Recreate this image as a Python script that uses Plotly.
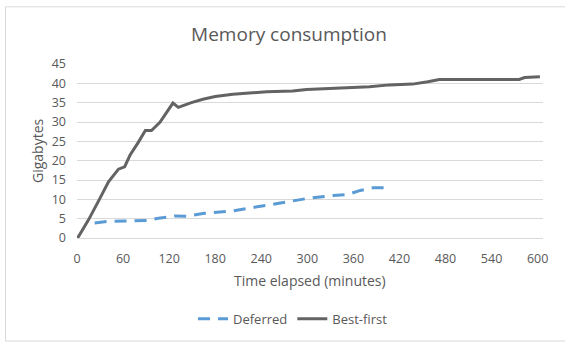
import plotly.graph_objects as go

# Best-first series (minutes, gigabytes)
best_t = [0, 2, 15, 21, 30, 41, 54, 62, 69, 80, 89, 97, 108, 125, 132, 149, 164, 180, 203,
          247, 281, 299, 351, 381, 407, 437, 457, 472, 576, 583, 603]
best_v = [0, 0.4, 4.7, 6.8, 10.3, 14.5, 17.8, 18.4, 21.4, 24.8, 27.8, 27.8, 29.9, 34.9, 33.8,
          35.0, 35.9, 36.6, 37.2, 37.8, 38.0, 38.4, 38.8, 39.1, 39.6, 39.8, 40.4, 41.0,
          41.0, 41.5, 41.7]

# Deferred series
def_t = [23, 41, 62, 91, 106, 127, 143, 166, 199, 230, 265, 299, 334, 352, 369, 386, 401]
def_v = [3.9, 4.3, 4.4, 4.5, 5.1, 5.7, 5.6, 6.4, 6.9, 8.0, 9.05, 10.2, 11.0, 11.2, 12.3, 13.0, 13.0]

x_ticks = [0, 60, 120, 180, 240, 300, 360, 420, 480, 540, 600]
y_ticks = [0, 5, 10, 15, 20, 25, 30, 35, 40, 45]

FONT = "Open Sans"
TXT = "#595959"
GRID = "#d9d9d9"

fig = go.Figure()
fig.add_trace(go.Scatter(x=def_t, y=def_v, mode="lines", name="Deferred",
                         line=dict(color="#5B9BD5", width=3, dash="12px,8px")))
fig.add_trace(go.Scatter(x=best_t, y=best_v, mode="lines", name="Best-first",
                         line=dict(color="#636363", width=3)))

L, R, T, B = 77, 22, 63.5, 106
W, H = 565, 346
pw = W - L - R
ph = H - T - B

def px2x(p):
    return (p - L) / pw

def py2y(p):
    return (H - B - p) / ph

fig.update_layout(
    width=W, height=H,
    margin=dict(l=L, r=R, t=T, b=B),
    paper_bgcolor="white", plot_bgcolor="white",
    font=dict(family=FONT, color=TXT, size=12),
    title=dict(text="Memory consumption", font=dict(size=19, color=TXT, family=FONT),
               xref="container", yref="container", x=289 / W, y=1 - 34 / H,
               xanchor="center", yanchor="middle"),
    showlegend=True,
    legend=dict(orientation="h", x=px2x(293), y=py2y(322), xanchor="center", yanchor="middle",
                font=dict(size=13, color=TXT), bgcolor="rgba(0,0,0,0)"),
    xaxis=dict(range=[0, 607], tickvals=x_ticks, showgrid=False, zeroline=False,
               showline=True, linecolor=GRID, linewidth=1, ticks="",
               ticklabelstandoff=9, tickfont=dict(size=12.5, color=TXT)),
    yaxis=dict(range=[0, 45], tickvals=y_ticks, showgrid=True, gridcolor=GRID, gridwidth=1,
               zeroline=False, showline=False, ticks="", ticklabelstandoff=10,
               tickfont=dict(size=12.5, color=TXT)),
    annotations=[
        dict(text="Gigabytes", xref="paper", yref="paper", x=px2x(37), y=0.5,
             xanchor="center", yanchor="middle", textangle=-90, showarrow=False,
             font=dict(size=14, color=TXT)),
        dict(text="Time elapsed (minutes)", xref="paper", yref="paper", x=0.5, y=py2y(283),
             xanchor="center", yanchor="middle", showarrow=False,
             font=dict(size=14, color=TXT)),
    ],
    shapes=[dict(type="rect", xref="paper", yref="paper", x0=px2x(5.5), x1=px2x(575),
                 y0=py2y(344.5), y1=py2y(5.5), line=dict(color=GRID, width=1),
                 fillcolor="rgba(0,0,0,0)", layer="below")],
)

fig.write_html("out.html")
